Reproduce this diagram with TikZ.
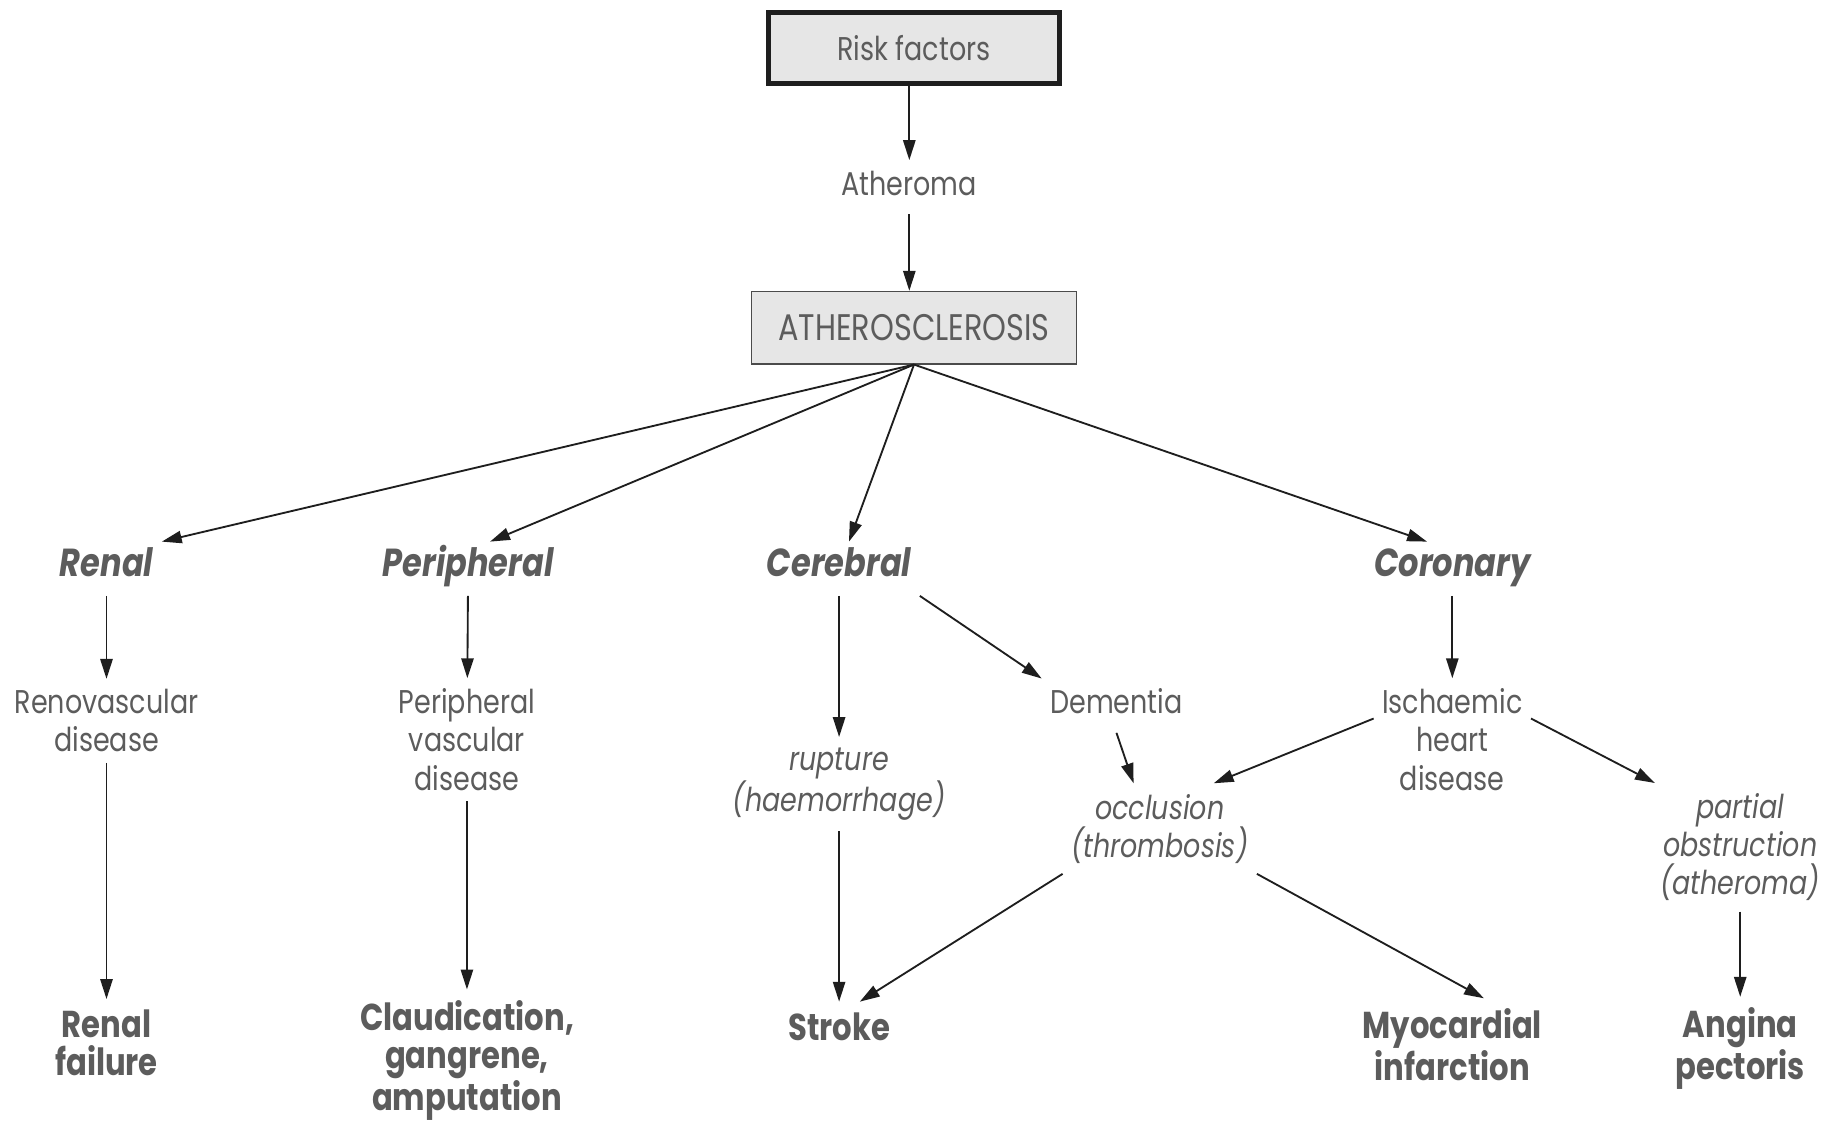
\documentclass[tikz,border=0pt]{standalone}
\usepackage{fontspec}
\setmainfont{Poppins}[FakeStretch=0.82]
\usetikzlibrary{arrows.meta}
\definecolor{Ink}{HTML}{1E1E1E}
\definecolor{GreyText}{HTML}{5C5C5C}
\definecolor{BoxFill}{HTML}{E6E6E6}
\tikzset{
  lbl/.style={text=GreyText, font=\fontsize{16}{18.5}\selectfont, align=center, inner xsep=4pt, inner ysep=5pt},
  onelbl/.style={lbl, text height=12pt, text depth=4pt},
  sitelbl/.style={onelbl, font=\fontsize{19}{18.5}\selectfont\bfseries\itshape},
  causelbl/.style={lbl, font=\fontsize{16}{18.5}\selectfont\itshape},
  endlbl/.style={lbl, font=\fontsize{18.2}{18.5}\selectfont\bfseries},
  riskbox/.style={lbl, draw=Ink, line width=2.4pt, fill=BoxFill, minimum width=4.98cm, minimum height=1.22cm},
  mainbox/.style={lbl, font=\fontsize{18}{18.5}\selectfont, draw=Ink!80, line width=0.6pt, fill=BoxFill, minimum width=5.56cm, minimum height=1.24cm},
  arr/.style={-{Triangle[length=3.4mm,width=2.1mm]}, line width=0.9pt, draw=Ink}
}
\begin{document}
\begin{tikzpicture}[x=0.02cm,y=-0.02cm]
\useasboundingbox (0,0) rectangle (1568,960);
\node[riskbox] (risk) at (781,41) {Risk factors};
\node[onelbl] (atheroma) at (777,160) {Atheroma};
\node[mainbox] (athero) at (781,280) {ATHEROSCLEROSIS};

\node[sitelbl] (renal) at (91,486) {Renal};
\node[sitelbl] (periph) at (400,486) {Peripheral};
\node[sitelbl] (cereb) at (717,486) {Cerebral};
\node[sitelbl] (coron) at (1241,486) {Coronary};

\node[lbl] (renov) at (91,616) {Renovascular\\disease};
\node[lbl] (pvd) at (399,632) {Peripheral\\vascular\\disease};
\node[onelbl] (dementia) at (954,603) {Dementia};
\node[lbl] (isch) at (1241,632) {Ischaemic\\heart\\disease};
\node[causelbl] (rupture) at (717,670) {rupture\\(haemorrhage)};
\node[causelbl] (occl) at (991,708) {occlusion\\(thrombosis)};
\node[causelbl] (partial) at (1487,724) {partial\\obstruction\\(atheroma)};

\node[endlbl] (renalf) at (91,891) {Renal\\failure};
\node[endlbl] (claud) at (399,906) {Claudication,\\gangrene,\\amputation};
\node[endlbl] (stroke) at (717,877) {Stroke};
\node[endlbl] (myo) at (1241,893) {Myocardial\\infarction};
\node[endlbl] (angina) at (1487,896) {Angina\\pectoris};

\draw[arr] (risk.south -| atheroma) -- (atheroma);
\draw[arr] (atheroma) -- (athero.north -| atheroma);
\draw[arr] (athero.south) -- (renal.north east);
\draw[arr] (athero.south) -- (periph.51);
\draw[arr] (athero.south) -- (cereb.70);
\draw[arr] (athero.south) -- (coron.133);
\draw[arr] (renal) -- (renov);
\draw[arr] (periph) -- (pvd);
\draw[arr] (coron) -- (isch);
\draw[arr] (cereb) -- (rupture);
\draw[arr] (cereb.south east) -- (dementia.north west);
\draw[arr] (dementia.south) -- (occl.120);
\draw[arr] (isch.165) -- (occl.40);
\draw[arr] (isch.15) -- (partial.143);
\draw[arr] (partial) -- (angina);
\draw[arr] (occl.south west) -- (stroke.50);
\draw[arr] (occl.south east) -- (myo.56);
\draw[arr] (rupture) -- (stroke);
\draw[arr] (renov) -- (renalf);
\draw[arr] (pvd) -- (claud);
\end{tikzpicture}
\end{document}
